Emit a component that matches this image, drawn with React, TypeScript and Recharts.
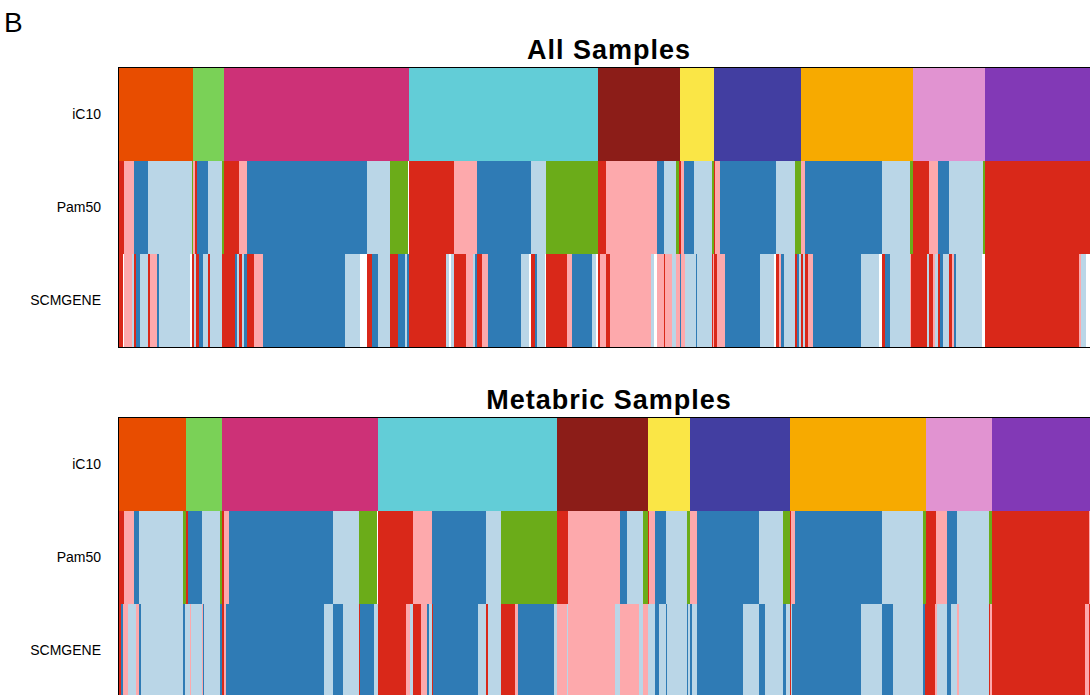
import { Bar, BarChart, Cell, XAxis, YAxis } from "recharts";

type Seg = [string, number];

const rowNames = ["iC10", "Pam50", "SCMGENE"];
const total = 980;

// Pam50 codes
const B = "Basal", H = "Her2", A = "LumA", L = "LumB", N = "Normal", X = "NA";
// SCMGENE codes
const R = "ER-/HER2-", P = "HER2+", D = "ER+/HER2- Low Prolif", S = "ER+/HER2- High Prolif";

const colors: Record<string, string> = {
  "1": "#E84D00", "2": "#7AD157", "3": "#CD3177", "4": "#62CDD7", "5": "#8C1D18",
  "6": "#FAE646", "7": "#423EA1", "8": "#F7AA00", "9": "#E193D1", "10": "#8239B6",
  [B]: "#D92819", [H]: "#FDA9AC", [A]: "#2F7BB5", [L]: "#BAD6E7", [N]: "#6BAC19",
  [R]: "#D92819", [P]: "#FDA9AC", [D]: "#2F7BB5", [S]: "#BAD6E7", [X]: "#FFFFFF",
};

const allIc10: Seg[] = [
  ["1", 74], ["2", 31], ["3", 185], ["4", 189], ["5", 82], ["6", 34], ["7", 87], ["8", 112], ["9", 72], ["10", 114],
];

const allPam50: Seg[] = [
  [B, 5], [H, 10], [A, 14], [L, 44], [N, 1], [H, 2], [B, 2], [A, 11], [L, 14], [N, 2], [B, 15], [H, 8],
  [A, 120], [L, 23], [N, 18], [X, 1], [B, 45], [H, 23], [A, 54], [L, 15], [N, 52], [B, 8], [H, 51],
  [A, 7], [L, 12], [N, 3], [B, 2], [H, 3], [A, 10], [L, 18], [N, 2], [B, 1], [H, 5], [A, 56], [L, 19],
  [N, 6], [H, 4], [A, 77], [L, 28], [N, 3], [B, 16], [H, 9], [A, 11], [L, 34], [N, 2], [B, 114],
];

const allScm: Seg[] = [
  [R, 4], [X, 1], [P, 8], [S, 2], [R, 2], [D, 4], [S, 8], [R, 2], [P, 7], [D, 2], [S, 31], [X, 2],
  [R, 2], [S, 2], [R, 3], [D, 4], [S, 5], [R, 2], [S, 12], [R, 13], [D, 2], [S, 2], [R, 3], [S, 2],
  [D, 3], [R, 7], [P, 9], [D, 82], [S, 15], [X, 7], [R, 5], [D, 6], [S, 12], [R, 8], [D, 7], [S, 2],
  [D, 2], [R, 37], [S, 3], [X, 2], [S, 3], [R, 12], [P, 7], [S, 2], [D, 2], [R, 5], [P, 6], [D, 33],
  [S, 8], [X, 2], [R, 4], [D, 2], [S, 8], [X, 1], [R, 21], [P, 5], [D, 20], [S, 4], [X, 2], [R, 2],
  [P, 6], [R, 4], [P, 41], [S, 3], [X, 3], [P, 7], [R, 1], [P, 7], [S, 4], [P, 4], [D, 1], [P, 4],
  [S, 11], [D, 1], [S, 15], [R, 1], [P, 1], [R, 3], [P, 8], [D, 35], [S, 14], [X, 2], [R, 3], [P, 2],
  [D, 3], [S, 11], [R, 2], [D, 2], [S, 2], [R, 2], [S, 2], [R, 3], [P, 5], [D, 48], [S, 18], [X, 3],
  [R, 3], [D, 5], [S, 20], [P, 1], [R, 16], [S, 2], [R, 4], [P, 2], [S, 3], [R, 2], [D, 3], [S, 6],
  [R, 3], [P, 2], [D, 2], [S, 26], [X, 3], [R, 94], [P, 2], [S, 5], [X, 13],
];

const metIc10: Seg[] = [
  ["1", 67], ["2", 36], ["3", 156], ["4", 179], ["5", 91], ["6", 42], ["7", 100], ["8", 136], ["9", 66], ["10", 107],
];

const metPam50: Seg[] = [
  [B, 5], [H, 10], [A, 5], [L, 44], [N, 3], [B, 2], [A, 14], [L, 18], [N, 2], [B, 2], [H, 5], [A, 104],
  [L, 26], [N, 18], [X, 1], [B, 35], [H, 19], [A, 54], [L, 15], [N, 56], [B, 11], [H, 52], [A, 7],
  [L, 16], [N, 5], [B, 1], [H, 6], [A, 11], [L, 21], [N, 3], [H, 7], [A, 62], [L, 24], [N, 7], [B, 1],
  [H, 4], [A, 87], [L, 41], [N, 3], [B, 10], [H, 11], [A, 10], [L, 32], [N, 3], [B, 97], [H, 10],
];

const metScm: Seg[] = [
  [R, 2], [D, 2], [P, 5], [S, 8], [P, 3], [D, 2], [S, 42], [D, 2], [S, 5], [P, 1], [S, 11], [P, 1],
  [D, 1], [S, 16], [D, 2], [R, 2], [P, 2], [D, 98], [S, 9], [D, 10], [S, 16], [R, 1], [D, 14], [S, 4],
  [R, 28], [P, 4], [S, 3], [R, 8], [P, 6], [D, 2], [S, 3], [R, 1], [D, 45], [S, 8], [R, 2], [S, 13],
  [R, 14], [P, 3], [D, 36], [S, 3], [P, 10], [S, 1], [P, 47], [S, 5], [P, 19], [S, 4], [P, 5], [S, 7],
  [D, 4], [S, 7], [D, 1], [S, 20], [D, 1], [S, 2], [D, 2], [S, 5], [D, 46], [S, 16], [D, 6], [S, 18],
  [D, 3], [S, 4], [R, 1], [S, 1], [D, 69], [S, 21], [D, 11], [S, 30], [D, 2], [R, 10], [P, 2], [S, 10],
  [D, 4], [S, 6], [P, 2], [S, 30], [R, 1], [P, 2], [R, 93], [P, 4], [R, 10],
];

const AXIS_W = 119;
const PLOT_H = 279;

function Panel({ title, top, rows }: { title: string; top: number; rows: Seg[][] }) {
  const maxSegs = Math.max(...rows.map((r) => r.length));
  const data = rows.map((segs, i) => {
    const d: Record<string, string | number> = { row: rowNames[i] };
    segs.forEach(([, w], k) => (d[`s${k}`] = w));
    return d;
  });
  return (
    <div style={{ position: "absolute", left: 0, top, width: AXIS_W + total, height: PLOT_H }}>
      <div
        style={{
          position: "absolute",
          left: AXIS_W,
          width: total,
          top: -33,
          textAlign: "center",
          fontWeight: "bold",
          fontSize: 27,
          letterSpacing: 1,
          lineHeight: "30px",
          whiteSpace: "nowrap",
        }}
      >
        {title}
      </div>
      <BarChart
        layout="vertical"
        width={AXIS_W + total}
        height={PLOT_H}
        data={data}
        margin={{ top: 0, right: 0, bottom: 0, left: 0 }}
        barCategoryGap={0}
      >
        <XAxis type="number" domain={[0, total]} hide />
        <YAxis
          type="category"
          dataKey="row"
          width={AXIS_W}
          axisLine={false}
          tickLine={false}
          tickSize={0}
          tickMargin={18}
          tick={{ fontSize: 14, fill: "#000", fontFamily: "Liberation Sans, Arial, sans-serif" }}
        />
        {Array.from({ length: maxSegs }, (_, k) => (
          <Bar key={k} dataKey={`s${k}`} stackId="a" isAnimationActive={false}>
            {rows.map((segs, i) => (
              <Cell key={i} fill={segs[k] ? colors[segs[k][0]] : "none"} />
            ))}
          </Bar>
        ))}
      </BarChart>
      <div
        style={{
          position: "absolute",
          left: AXIS_W - 1,
          top: -1,
          width: total + 2,
          height: PLOT_H + 2,
          boxSizing: "border-box",
          border: "1.5px solid #000",
          pointerEvents: "none",
        }}
      />
    </div>
  );
}

export default function App() {
  return (
    <div
      style={{
        position: "fixed",
        left: 0,
        top: 0,
        width: 1090,
        height: 695,
        overflow: "hidden",
        background: "#fff",
        fontFamily: "Liberation Sans, Arial, sans-serif",
        color: "#000",
      }}
    >
      <div style={{ position: "absolute", left: 4, top: 9, fontSize: 28, lineHeight: "28px" }}>B</div>
      <Panel title="All Samples" top={68} rows={[allIc10, allPam50, allScm]} />
      <Panel title="Metabric Samples" top={418} rows={[metIc10, metPam50, metScm]} />
    </div>
  );
}
